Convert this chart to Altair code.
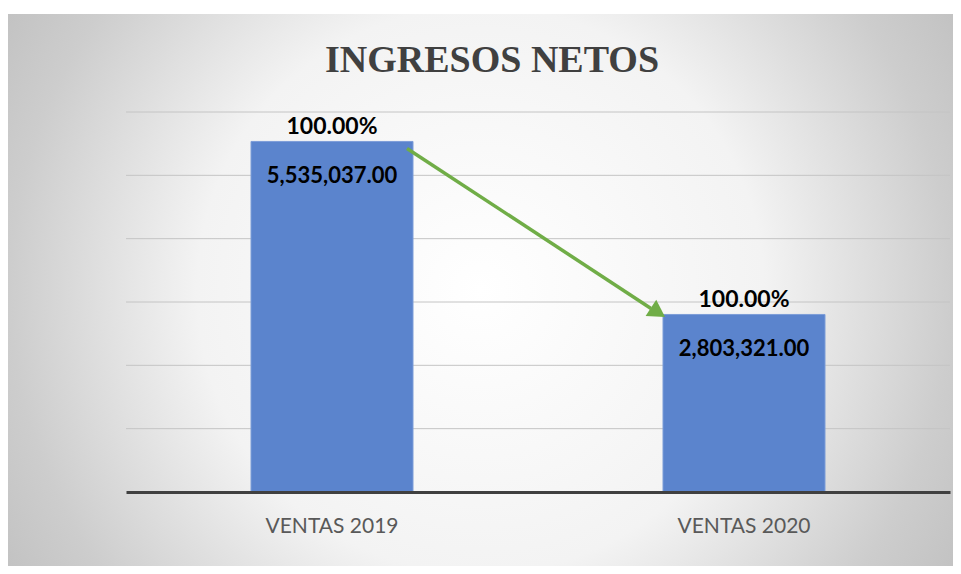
import altair as alt
import pandas as pd

categories = ["VENTAS 2019", "VENTAS 2020"]
values = [5535037.00, 2803321.00]
shares = ["100.00%", "100.00%"]
grid_values = [1000000, 2000000, 3000000, 4000000, 5000000, 6000000]

W, H = 824, 380
PAD_L, PAD_T, PAD_R, PAD_B = 118, 104, 3, 74

df = pd.DataFrame({"cat": categories, "val": values, "pct": shares})
grid_df = pd.DataFrame({"g": grid_values})
arrow_df = pd.DataFrame({"c1": [categories[0]], "c2": [categories[1]],
                         "v1": [values[0]], "v2": [values[1]]})

xscale = alt.Scale(domain=categories, paddingInner=0, paddingOuter=0)
yscale = alt.Scale(domain=[0, 6000000], nice=False)
xaxis = alt.Axis(title=None, labelFont="Lato", labelFontSize=21, labelColor="#595959",
                 labelAngle=0, ticks=False, tickSize=0, grid=False, domain=True,
                 domainColor="#404040", domainWidth=3, labelPadding=40,
                 labelBaseline="alphabetic", zindex=1)

gradient = alt.RadialGradient(
    gradient="radial", x1=0.5, y1=0.5, r1=0, x2=0.5, y2=0.5, r2=0.6,
    stops=[alt.GradientStop(offset=0, color="#ffffff"),
           alt.GradientStop(offset=0.5, color="#f3f3f3"),
           alt.GradientStop(offset=0.83, color="#cdcdcd"),
           alt.GradientStop(offset=1, color="#c0c0c0")])

bg = alt.Chart(pd.DataFrame({"k": [0]})).mark_rect(fill=gradient, clip=False).encode(
    x=alt.value(-PAD_L), x2=alt.value(W + PAD_R),
    y=alt.value(-98), y2=alt.value(H + PAD_B))

grid = alt.Chart(grid_df).mark_rule(color="#c4c4c4", strokeWidth=1).encode(
    y=alt.Y("g:Q", scale=yscale, axis=None),
    x=alt.value(0), x2=alt.value(W))

bars = alt.Chart(df).mark_bar(size=162, color="#5B84CD", stroke="#7d9dd8", strokeWidth=1).encode(
    x=alt.X("cat:N", scale=xscale, axis=xaxis, sort=categories),
    y=alt.Y("val:Q", scale=yscale, axis=None))

pct = alt.Chart(df).mark_text(font="Lato", fontSize=23, fontWeight="bold", color="black",
                              baseline="alphabetic", dy=-7).encode(
    x=alt.X("cat:N", scale=xscale, axis=xaxis, sort=categories),
    y=alt.Y("val:Q", scale=yscale, axis=None),
    text="pct:N")

vals = alt.Chart(df).mark_text(font="Lato", fontSize=22, fontWeight="bold", color="black",
                               baseline="alphabetic", dy=42).encode(
    x=alt.X("cat:N", scale=xscale, axis=xaxis, sort=categories),
    y=alt.Y("val:Q", scale=yscale, axis=None),
    text=alt.Text("val:Q", format=",.2f"))

arrow = alt.Chart(arrow_df).mark_rule(color="#70AD47", strokeWidth=3.5,
                                      xOffset=75, yOffset=7, x2Offset=-93, y2Offset=-6).encode(
    x=alt.X("c1:N", scale=xscale, axis=xaxis, bandPosition=0.5),
    x2=alt.X2("c2", bandPosition=0.5),
    y=alt.Y("v1:Q", scale=yscale, axis=None),
    y2="v2")

head = alt.Chart(arrow_df).mark_point(shape="triangle-right", filled=True, size=380, angle=33,
                                      color="#70AD47", opacity=1, strokeWidth=0,
                                      xOffset=-86, yOffset=-2).encode(
    x=alt.X("c2:N", scale=xscale, axis=xaxis),
    y=alt.Y("v2:Q", scale=yscale, axis=None))

chart = alt.layer(bg, grid, bars, arrow, head, pct, vals).properties(
    width=W, height=H,
    autosize=alt.AutoSizeParams(type="none"),
    padding={"left": PAD_L, "top": PAD_T, "right": PAD_R, "bottom": PAD_B},
    title=alt.TitleParams("INGRESOS NETOS", font="Liberation Serif", fontSize=38,
                          fontWeight="bold", color="#404040", anchor="middle",
                          dx=-46, offset=-66),
    background="white",
).configure_view(stroke=None)

chart.save("out.html", embed_options={"renderer": "svg", "actions": False})
